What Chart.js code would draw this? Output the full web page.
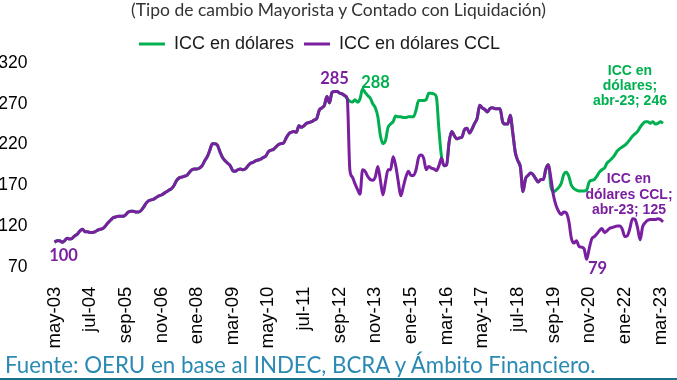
<!DOCTYPE html>
<html>
<head>
<meta charset="utf-8">
<script src="https://cdn.jsdelivr.net/npm/chart.js@4/dist/chart.umd.min.js"></script>
<style>
html,body{margin:0;padding:0;background:#fff;}
#wrap{position:relative;width:677px;height:380px;overflow:hidden;background:#fff;}
#c{position:absolute;left:0;top:0;}
#title{position:absolute;left:0;top:0;width:677px;text-align:center;font-family:Lato,sans-serif;font-size:17.5px;line-height:20px;color:#333333;}
#footer{position:absolute;left:5px;top:352px;font-family:Lato,sans-serif;font-size:22.3px;line-height:26px;color:#2b8ab3;white-space:nowrap;}
#bar{position:absolute;left:0;top:378px;width:677px;height:2px;background:#1d6f88;}
</style>
</head>
<body>
<div id="wrap">
<canvas id="c" width="677" height="380"></canvas>
<div id="title">(Tipo de cambio Mayorista y Contado con Liquidación)</div>
<div id="footer">Fuente: OERU en base al INDEC, BCRA y Ámbito Financiero.</div>
<div id="bar"></div>
</div>
<script>
// ---- data ----
const monthNames = ['ene','feb','mar','abr','may','jun','jul','ago','sep','oct','nov','dic'];
const startYear = 2003, startMonth = 4; // may-03
const nMonths = 240;                    // may-03 .. abr-23
const tickLabels = ['may-03','jul-04','sep-05','nov-06','ene-08','mar-09','may-10','jul-11','sep-12',
  'nov-13','ene-15','mar-16','may-17','jul-18','sep-19','nov-20','ene-22','mar-23'];
const yTicks = [70,120,170,220,270,320];

// ICC en dólares CCL
const iccCCL = [
100,102,102,100,102,105,104,105,108,110,
114,116,113,113,112,112,113,115,116,117,
120,124,127,130,131,132,132,132,134,137,
138,138,137,137,139,143,148,151,152,153,
155,157,158,160,162,164,166,170,176,179,
180,181,182,186,189,190,190,191,194,200,
205,213,221,221,219,211,204,200,197,194,
188,187,189,190,189,190,194,197,198,200,
201,202,204,206,211,213,214,217,220,221,
222,228,233,235,236,235,243,241,243,246,
247,248,250,252,262,265,268,279,271,284,
285,285,283,282,280,276,189,180,172,165,
159,189,187,181,177,176,180,193,176,158,
174,189,189,205,194,175,157,168,180,187,
182,182,189,204,207,203,189,193,191,190,
188,194,203,194,195,223,236,231,227,228,
229,238,240,234,239,246,252,268,265,263,
260,264,265,264,264,264,248,245,245,256,
234,210,200,192,162,178,182,185,183,178,
174,177,177,190,195,178,157,145,138,134,
137,136,126,105,99,102,95,94,92,79,
92,104,107,110,114,117,112,114,117,118,
119,120,120,116,107,108,117,129,128,118,
103,119,124,127,128,128,128,129,128,125];

// ICC en dólares (tipo de cambio mayorista)
const iccUSD = [
100,102,102,100,102,105,104,105,108,110,
114,116,113,113,112,112,113,115,116,117,
120,124,127,130,131,132,132,132,134,137,
138,138,137,137,139,143,148,151,152,153,
155,157,158,160,162,164,166,170,176,179,
180,181,182,186,189,190,190,191,194,200,
205,213,221,221,219,211,204,200,197,194,
188,187,189,190,189,190,194,197,198,200,
201,202,204,206,211,213,214,217,220,221,
222,228,233,235,236,235,243,241,243,246,
247,248,250,252,262,265,268,279,271,284,
285,285,283,282,280,276,273,272,275,272,
276,288,284,280,277,270,265,254,231,221,
225,241,245,248,255,254,254,253,253,254,
254,254,262,274,274,274,275,283,283,282,
278,238,205,194,195,223,236,231,227,228,
229,238,240,234,239,246,252,268,265,263,
260,264,265,264,264,264,248,245,245,256,
234,210,200,192,162,178,182,185,183,178,
174,177,177,190,195,168,162,164,167,172,
183,186,181,170,166,164,163,163,163,164,
174,176,177,181,186,189,191,197,200,203,
207,212,215,217,219,222,226,230,233,236,
241,245,248,248,246,248,245,246,248,246];

const seriesNames = ['ICC en dólares','ICC en dólares CCL'];
const colGreen = '#00b050';
const colPurple = '#7a1fa0';

// category labels built from the month names
const categories = [];
for (let k = 0; k < nMonths; k++) {
  const m = (startMonth + k) % 12;
  const yr = startYear + Math.floor((startMonth + k) / 12);
  categories.push(monthNames[m] + '-' + String(yr % 100).padStart(2, '0'));
}

const annot = {
  id: 'annot',
  afterLayout(chart) {
    if (chart.legend) { chart.legend.left -= 12; chart.legend.right -= 12; }
  },
  afterDatasetsDraw(chart) {
    const {ctx, scales: {x, y}} = chart;
    const last = nMonths - 1;
    ctx.save();
    ctx.textAlign = 'center';
    ctx.textBaseline = 'middle';
    const put = (txt, i, v, dx, dy, col, font) => {
      ctx.fillStyle = col; ctx.font = font;
      ctx.fillText(txt, x.getPixelForValue(i) + dx, y.getPixelForValue(v) + dy);
    };
    const numFont = 'bold 16.5px Lato';
    put(String(iccCCL[0]), 0, iccCCL[0], 9, 13, colPurple, numFont);
    const pMax = Math.max(...iccCCL), pI = iccCCL.indexOf(pMax);
    put(String(pMax), pI, pMax, 0, -13, colPurple, numFont);
    const gMax = Math.max(...iccUSD), gI = iccUSD.indexOf(gMax);
    put(String(gMax), gI, gMax, 13, -6, colGreen, numFont);
    const pMin = Math.min(...iccCCL), mI = iccCCL.indexOf(pMin);
    put(String(pMin), mI, pMin, 11, 9, colPurple, numFont);
    const lblFont = 'bold 14px Arial, "Liberation Sans"';
    const gl = ['ICC en', 'dólares;', categories[last] + '; ' + iccUSD[last]];
    gl.forEach((t, k) => put(t, last, iccUSD[last], -33, -52 + k * 15, colGreen, lblFont));
    const pl = ['ICC en', 'dólares CCL;', categories[last] + '; ' + iccCCL[last]];
    pl.forEach((t, k) => put(t, last, iccCCL[last], -34, -42.5 + k * 15.5, colPurple, lblFont));
    ctx.restore();
  }
};

const xTickFont = {family: 'Arial, "Liberation Sans", sans-serif', size: 18.5};
const yTickFont = {family: 'Arial, "Liberation Sans", sans-serif', size: 17.5};

new Chart(document.getElementById('c'), {
  type: 'line',
  data: {
    labels: categories,
    datasets: [
      {label: seriesNames[0], data: iccUSD, borderColor: colGreen, backgroundColor: colGreen,
       borderWidth: 3, pointRadius: 0, cubicInterpolationMode: 'monotone', order: 1},
      {label: seriesNames[1], data: iccCCL, borderColor: colPurple, backgroundColor: colPurple,
       borderWidth: 3, pointRadius: 0, cubicInterpolationMode: 'monotone', order: 0}
    ]
  },
  options: {
    responsive: false,
    devicePixelRatio: 1,
    animation: false,
    layout: {padding: {top: 25, left: 0, right: 14, bottom: 0}},
    plugins: {
      tooltip: {enabled: false},
      legend: {
        display: true,
        position: 'top',
        labels: {
          boxWidth: 26, boxHeight: 3, padding: 10,
          color: '#1a1a1a',
          font: {family: 'Arial, "Liberation Sans", sans-serif', size: 18},
          sort: (a, b) => a.datasetIndex - b.datasetIndex,
          generateLabels(chart) {
            const items = Chart.defaults.plugins.legend.labels.generateLabels(chart);
            items.forEach(it => { it.lineWidth = 0; it.fillStyle = it.strokeStyle; });
            return items;
          }
        }
      }
    },
    scales: {
      x: {
        grid: {display: false}, border: {display: false},
        ticks: {
          autoSkip: false, maxRotation: 90, minRotation: 90, padding: 12,
          color: '#000', font: xTickFont,
          callback(val, idx) { const l = categories[idx]; return tickLabels.includes(l) ? l : null; }
        },
        afterFit(s) { s.height = 113.3; s.paddingLeft = 0; s.paddingRight = 0; }
      },
      y: {
        min: 70, max: 320,
        grid: {display: false}, border: {display: false},
        ticks: {stepSize: 50, padding: 19, color: '#000', font: yTickFont,
          callback: v => yTicks.includes(v) ? String(v) : null},
        afterFit(s) { s.width = 54.5; s.paddingTop = 0; s.paddingBottom = 0; }
      }
    }
  },
  plugins: [annot]
});
</script>
</body>
</html>
